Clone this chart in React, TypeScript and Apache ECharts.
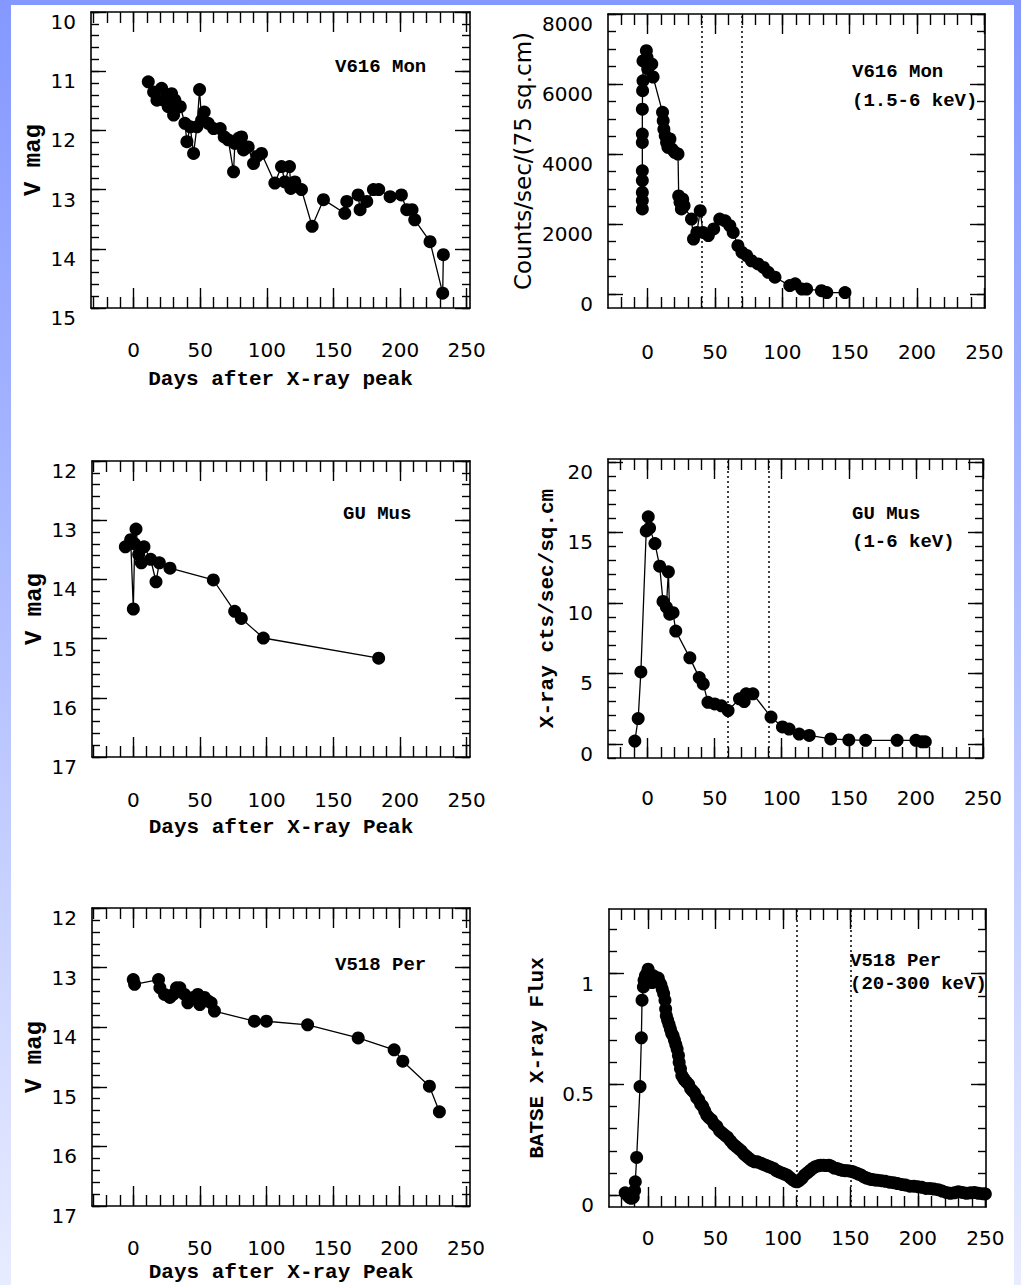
import React, { useEffect, useRef } from "react";
import * as echarts from "echarts";

// ---------- tick labels ----------
const xMajorTicks = [0, 50, 100, 150, 200, 250];
const optMajorTicksA = [10, 11, 12, 13, 14, 15];
const optMajorTicksB = [12, 13, 14, 15, 16, 17];
const monXrayTicks = [0, 2000, 4000, 6000, 8000];
const musXrayTicks = [0, 5, 10, 15, 20];
const perXrayTicks = [0, 0.5, 1];

// ---------- data: [days after X-ray peak, value] ----------
const v616OptData = [
  [11, 11.18], [15, 11.35], [17.5, 11.49], [21, 11.29], [22.5, 11.49], [25, 11.43],
  [26, 11.6], [28.5, 11.38], [30, 11.74], [31, 11.49], [35, 11.6], [38.5, 11.88],
  [40, 12.19], [42.5, 11.94], [45, 12.39], [47.5, 11.94], [49.5, 11.31], [51, 11.83],
  [53, 11.69], [56, 11.88], [60, 11.97], [65, 11.97], [68, 12.11], [71, 12.16],
  [75, 12.7], [76, 12.22], [79, 12.13], [81, 12.11], [82.5, 12.33], [86, 12.28],
  [90, 12.56], [92.5, 12.44], [96, 12.39], [106, 12.89], [111, 12.61], [113.5, 12.87],
  [117, 12.61], [118, 12.98], [121, 12.87], [126, 13.0], [134, 13.62], [142.5, 13.17],
  [158.5, 13.4], [160, 13.2], [168.5, 13.09], [170, 13.34], [175, 13.2], [180, 13.0],
  [184, 13.0], [192.5, 13.12], [201, 13.09], [205, 13.34], [209, 13.34], [211, 13.51],
  [222.5, 13.88], [232, 14.75], [232.5, 14.1],
];

const v616XrayData = [
  [-4, 2430], [-4, 2670], [-4, 2900], [-4, 3240], [-4, 3520], [-4, 4330], [-4, 4570],
  [-4, 5280], [-3.8, 5810], [-3.5, 6090], [-3.5, 6660], [-1, 6950], [-0.5, 6760],
  [0, 6430], [3, 6570], [4, 6200], [11, 5190], [11.5, 4950], [12, 4710], [13, 4520],
  [14, 4330], [15, 4190], [16.5, 4430], [18, 4140], [20, 4050], [22.5, 4000],
  [23, 2800], [24, 2620], [25, 2430], [26, 2710], [27, 2520], [32.5, 2140], [34, 1570],
  [36.5, 1760], [39, 2380], [41, 1760], [45, 1670], [49, 1860], [53.5, 2140],
  [57.5, 2090], [61, 1950], [63.5, 1760], [67, 1380], [70, 1190], [73.5, 1100],
  [77, 950], [82, 860], [86, 760], [89.5, 620], [94.5, 480], [105.5, 240], [109.5, 290],
  [114.5, 140], [118, 140], [129, 95], [133, 40], [146.5, 40],
];

const guMusOptData = [
  [-6, 13.45], [-2, 13.33], [0, 14.5], [1, 13.4], [2, 13.15], [4, 13.58], [6, 13.72],
  [8, 13.45], [13, 13.66], [17, 14.04], [19.5, 13.72], [27.5, 13.81], [60, 14.01],
  [76, 14.54], [81, 14.66], [97.5, 14.99], [184, 15.33],
];

const guMusXrayData = [
  [-9.5, 0.2], [-7, 1.8], [-5, 5.1], [-1, 15.1], [0.5, 16.1], [1.5, 15.3], [5.5, 14.2],
  [9, 12.6], [11.5, 10.1], [14, 9.7], [15.5, 12.2], [16.5, 9.2], [19, 9.3], [21, 8.0],
  [31.5, 6.1], [38.5, 4.7], [41.5, 4.25], [45, 2.95], [50, 2.83], [55, 2.7],
  [60, 2.36], [68.5, 3.2], [72, 3.0], [73.5, 3.55], [78.5, 3.55], [92, 1.9],
  [100.5, 1.2], [105.5, 1.05], [113, 0.7], [120.5, 0.6], [136.5, 0.35], [150, 0.28],
  [162.5, 0.25], [186, 0.25], [200, 0.25], [204.5, 0.15], [207, 0.15],
];

const v518OptData = [
  [0, 13.2], [1, 13.28], [19, 13.2], [20, 13.34], [23.5, 13.45], [27.5, 13.5],
  [30, 13.45], [32.5, 13.34], [35, 13.34], [38.5, 13.45], [41, 13.59], [45, 13.5],
  [48.5, 13.45], [50, 13.62], [53.5, 13.5], [56, 13.56], [58.5, 13.59], [61, 13.73],
  [91, 13.9], [100, 13.9], [131, 13.96], [169, 14.18], [196, 14.38], [202.5, 14.57],
  [222.5, 14.99], [230, 15.42],
];

const v518XrayData = [
  [-17, 0.01], [-15.5, 0.0], [-14, -0.01], [-12.5, -0.015], [-11, -0.01], [-10, 0.02],
  [-9.5, 0.06], [-8.5, 0.17], [-6, 0.49], [-5, 0.71], [-4.5, 0.88], [-3.5, 0.94],
  [-3, 0.97], [-2, 0.99], [-1, 1.0], [0, 1.02], [1, 1.0], [2, 0.97], [3, 0.96], [4, 0.99],
  [5, 0.98], [6, 0.97], [7.5, 0.98], [8.5, 0.96], [9.5, 0.95], [10.5, 0.93], [11.5, 0.91],
  [12.5, 0.88], [13, 0.84], [13.5, 0.81], [14.5, 0.79], [15.5, 0.77], [16.5, 0.75],
  [17.5, 0.73], [18.5, 0.72], [19.5, 0.7], [20.5, 0.68], [21.5, 0.66], [22.5, 0.63],
  [23, 0.6], [24, 0.57], [25, 0.54], [26, 0.53], [27, 0.52], [28.5, 0.51], [30, 0.5],
  [31.5, 0.48], [33, 0.47], [34.5, 0.46], [36, 0.44], [37.5, 0.43], [39, 0.41],
  [40.5, 0.4], [42, 0.38], [43.5, 0.36], [45, 0.35], [47, 0.34], [49, 0.32], [51, 0.31],
  [53, 0.29], [55, 0.28], [57, 0.27], [59, 0.26], [61, 0.245], [63, 0.23], [65, 0.22],
  [67, 0.21], [69, 0.2], [71, 0.185], [73, 0.175], [75, 0.165], [77, 0.155], [79, 0.15],
  [81, 0.15], [83, 0.145], [85, 0.14], [87, 0.135], [89, 0.13], [91, 0.125], [93, 0.12],
  [95, 0.11], [97, 0.105], [99, 0.1], [101, 0.095], [103, 0.09], [105, 0.08], [107, 0.07],
  [109, 0.062], [110.5, 0.06], [112, 0.065], [114, 0.075], [116, 0.09], [118, 0.1],
  [120, 0.11], [122, 0.12], [124, 0.128], [126, 0.132], [128, 0.135], [130, 0.135],
  [132, 0.133], [134, 0.135], [136, 0.13], [138, 0.122], [140, 0.12], [142, 0.115],
  [144, 0.112], [146, 0.11], [148, 0.11], [150, 0.108], [152, 0.105], [154, 0.1],
  [156, 0.095], [158, 0.09], [160, 0.082], [162, 0.077], [164, 0.073], [166, 0.07],
  [168, 0.068], [170, 0.067], [173, 0.065], [176, 0.062], [179, 0.058], [182, 0.056],
  [185, 0.052], [188, 0.048], [191, 0.045], [194, 0.04], [197, 0.04], [200, 0.038],
  [203, 0.035], [206, 0.03], [209, 0.03], [212, 0.027], [215, 0.024], [218, 0.018],
  [221, 0.012], [224, 0.008], [227, 0.01], [230, 0.015], [233, 0.012], [236, 0.008],
  [239, 0.01], [242, 0.012], [245, 0.008], [248, 0.006], [250, 0.005],
];

// dotted vertical markers (days)
const v616Markers = [40, 70];
const guMusMarkers = [60, 90];
const v518Markers = [110, 150];

const FONT_TICK = '"DejaVu Sans", sans-serif';
const FONT_MONO = '"Liberation Mono", "Courier New", monospace';

function range(a: number, b: number, step: number) {
  const out: number[] = [];
  for (let v = a; v <= b + 1e-9; v += step) out.push(Math.round(v * 1000) / 1000);
  return out;
}

type Panel = {
  box: [number, number, number, number];
  x: [number, number];
  y: [number, number];
  inverse: boolean;
  yMajor: number[];
  yMinorStep: number;
  data: number[][];
  size: number;
  markers?: number[];
  xLabelMargin: number;
  xName?: string;
  xNameGap?: number;
  yName: string;
  yNameGap: number;
  yNameFont: { family: string; size: number; weight: string };
  notes: { text: string; x: number; y: number }[];
};

const panels: Panel[] = [
  {
    box: [91, 12, 379, 296], x: [-32, 252.5], y: [10, 15], inverse: true,
    yMajor: optMajorTicksA, yMinorStep: 0.2, data: v616OptData, size: 13,
    xLabelMargin: 32, xName: "Days after X-ray peak", xNameGap: 61,
    yName: "V mag", yNameGap: 46, yNameFont: { family: FONT_MONO, size: 24, weight: "bold" },
    notes: [{ text: "V616 Mon", x: 335, y: 67 }],
  },
  {
    box: [608, 14, 377, 294], x: [-29.5, 250.5], y: [-400, 8000], inverse: false,
    yMajor: monXrayTicks, yMinorStep: 500, data: v616XrayData, size: 13, markers: v616Markers,
    xLabelMargin: 34,
    yName: "Counts/sec/(75 sq.cm)", yNameGap: 74, yNameFont: { family: FONT_TICK, size: 23, weight: "normal" },
    notes: [{ text: "V616 Mon", x: 852, y: 72 }, { text: "(1.5-6 keV)", x: 852, y: 101 }],
  },
  {
    box: [92, 461, 378, 296], x: [-31, 252.5], y: [12, 17], inverse: true,
    yMajor: optMajorTicksB, yMinorStep: 0.2, data: guMusOptData, size: 13,
    xLabelMargin: 33, xName: "Days after X-ray Peak", xNameGap: 60,
    yName: "V mag", yNameGap: 46, yNameFont: { family: FONT_MONO, size: 24, weight: "bold" },
    notes: [{ text: "GU Mus", x: 343, y: 514 }],
  },
  {
    box: [608, 459, 375, 299], x: [-29.5, 250], y: [-1, 20.2], inverse: false,
    yMajor: musXrayTicks, yMinorStep: 1, data: guMusXrayData, size: 13, markers: guMusMarkers,
    xLabelMargin: 30,
    yName: "X-ray cts/sec/sq.cm", yNameGap: 50, yNameFont: { family: FONT_MONO, size: 21, weight: "bold" },
    notes: [{ text: "GU Mus", x: 852, y: 514 }, { text: "(1-6 keV)", x: 852, y: 542 }],
  },
  {
    box: [92, 908, 378, 298], x: [-31, 253], y: [12, 17], inverse: true,
    yMajor: optMajorTicksB, yMinorStep: 0.2, data: v518OptData, size: 13,
    xLabelMargin: 32, xName: "Days after X-ray Peak", xNameGap: 56,
    yName: "V mag", yNameGap: 46, yNameFont: { family: FONT_MONO, size: 24, weight: "bold" },
    notes: [{ text: "V518 Per", x: 335, y: 965 }],
  },
  {
    box: [609, 909, 377, 298], x: [-29, 250.5], y: [-0.054, 1.292], inverse: false,
    yMajor: perXrayTicks, yMinorStep: 0.1, data: v518XrayData, size: 13, markers: v518Markers,
    xLabelMargin: 21,
    yName: "BATSE X-ray Flux", yNameGap: 61, yNameFont: { family: FONT_MONO, size: 21, weight: "bold" },
    notes: [{ text: "V518 Per", x: 850, y: 961 }, { text: "(20-300 keV)", x: 850, y: 984 }],
  },
];

const LINE = { color: "#000", width: 1.6 };
const TICK = { color: "#000", width: 1.4 };

function buildOption() {
  const grid: any[] = [];
  const xAxis: any[] = [];
  const yAxis: any[] = [];
  const series: any[] = [];
  const graphic: any[] = [];

  panels.forEach((p, i) => {
    grid.push({
      left: p.box[0], top: p.box[1], width: p.box[2], height: p.box[3],
      containLabel: false, outerBoundsMode: "none", show: false,
    });
    const xMinor = range(-30, 250, 10).filter((v) => v >= p.x[0] && v <= p.x[1]);
    const yMinorStart = Math.ceil(p.y[0] / p.yMinorStep - 1e-9) * p.yMinorStep;
    const yMinor = range(yMinorStart, p.y[1], p.yMinorStep);

    const xBase = {
      type: "value", gridIndex: i, min: p.x[0], max: p.x[1],
      splitLine: { show: false }, axisPointer: { show: false },
    };
    const yBase = {
      type: "value", gridIndex: i, min: p.y[0], max: p.y[1], inverse: p.inverse,
      splitLine: { show: false }, axisPointer: { show: false },
    };
    const hiddenLine = { show: false, onZero: false };
    const noLabel = { show: false };

    // x: bottom major (with labels), bottom minor, top major, top minor
    xAxis.push({
      ...xBase, position: "bottom",
      axisLine: { show: true, onZero: false, lineStyle: LINE },
      axisTick: { show: true, inside: true, length: 20, lineStyle: TICK, customValues: xMajorTicks },
      axisLabel: {
        show: true, customValues: xMajorTicks, margin: p.xLabelMargin,
        fontFamily: FONT_TICK, fontSize: 20, color: "#000",
        formatter: (v: number) => String(v),
      },
      name: p.xName || "", nameLocation: "middle", nameGap: p.xNameGap || 0,
      nameTextStyle: { fontFamily: FONT_MONO, fontSize: 21, fontWeight: "bold", color: "#000" },
    });
    xAxis.push({
      ...xBase, position: "bottom", axisLine: hiddenLine, axisLabel: noLabel,
      axisTick: { show: true, inside: true, length: 11, lineStyle: TICK, customValues: xMinor },
    });
    xAxis.push({
      ...xBase, position: "top",
      axisLine: { show: true, onZero: false, lineStyle: LINE }, axisLabel: noLabel,
      axisTick: { show: true, inside: true, length: 20, lineStyle: TICK, customValues: xMajorTicks },
    });
    xAxis.push({
      ...xBase, position: "top", axisLine: hiddenLine, axisLabel: noLabel,
      axisTick: { show: true, inside: true, length: 11, lineStyle: TICK, customValues: xMinor },
    });

    // y: left major (with labels), left minor, right major, right minor
    yAxis.push({
      ...yBase, position: "left",
      axisLine: { show: true, onZero: false, lineStyle: LINE },
      axisTick: { show: true, inside: true, length: 15, lineStyle: TICK, customValues: p.yMajor },
      axisLabel: {
        show: true, customValues: p.yMajor, margin: 15, verticalAlign: "top", lineHeight: 20,
        fontFamily: FONT_TICK, fontSize: 20, color: "#000",
        formatter: (v: number) => String(v),
      },
      name: p.yName, nameLocation: "middle", nameGap: p.yNameGap,
      nameTextStyle: {
        fontFamily: p.yNameFont.family, fontSize: p.yNameFont.size,
        fontWeight: p.yNameFont.weight, color: "#000",
      },
    });
    yAxis.push({
      ...yBase, position: "left", axisLine: hiddenLine, axisLabel: noLabel,
      axisTick: { show: true, inside: true, length: 8, lineStyle: TICK, customValues: yMinor },
    });
    yAxis.push({
      ...yBase, position: "right",
      axisLine: { show: true, onZero: false, lineStyle: LINE }, axisLabel: noLabel,
      axisTick: { show: true, inside: true, length: 15, lineStyle: TICK, customValues: p.yMajor },
    });
    yAxis.push({
      ...yBase, position: "right", axisLine: hiddenLine, axisLabel: noLabel,
      axisTick: { show: true, inside: true, length: 8, lineStyle: TICK, customValues: yMinor },
    });

    series.push({
      type: "line",
      xAxisIndex: i * 4,
      yAxisIndex: i * 4,
      data: p.data,
      symbol: "circle",
      symbolSize: p.size,
      showSymbol: true,
      showAllSymbol: true,
      clip: true,
      itemStyle: { color: "#000" },
      lineStyle: { color: "#000", width: 1.3 },
      z: 3,
      markLine: p.markers
        ? {
            silent: true,
            symbol: ["none", "none"],
            label: { show: false },
            lineStyle: { color: "#000", type: [2, 3], width: 1.5 },
            data: p.markers.map((d) => ({ xAxis: d })),
          }
        : undefined,
    });

    p.notes.forEach((n) => {
      graphic.push({
        type: "text",
        x: n.x,
        y: n.y,
        style: {
          text: n.text,
          font: `bold 19px ${FONT_MONO}`,
          fill: "#000",
          align: "left",
          verticalAlign: "middle",
        },
        z: 10,
      });
    });
  });

  return {
    animation: false,
    backgroundColor: "transparent",
    grid,
    xAxis,
    yAxis,
    series,
    graphic,
  };
}

export default function App() {
  const ref = useRef<HTMLDivElement>(null);
  useEffect(() => {
    if (!ref.current) return;
    const chart = echarts.init(ref.current, undefined, { renderer: "svg" });
    chart.setOption(buildOption() as any);
    return () => chart.dispose();
  }, []);
  return (
    <div
      style={{
        position: "fixed", left: 0, top: 0, width: 1021, height: 1285, overflow: "hidden",
        background: "linear-gradient(to bottom, #8498ff 0%, #aebcff 45%, #e8ecff 100%)",
      }}
    >
      <div style={{ position: "absolute", left: 11, top: 5, width: 1003, height: 1280, background: "#fff" }} />
      <div ref={ref} style={{ position: "absolute", left: 0, top: 0, width: 1021, height: 1285 }} />
    </div>
  );
}
